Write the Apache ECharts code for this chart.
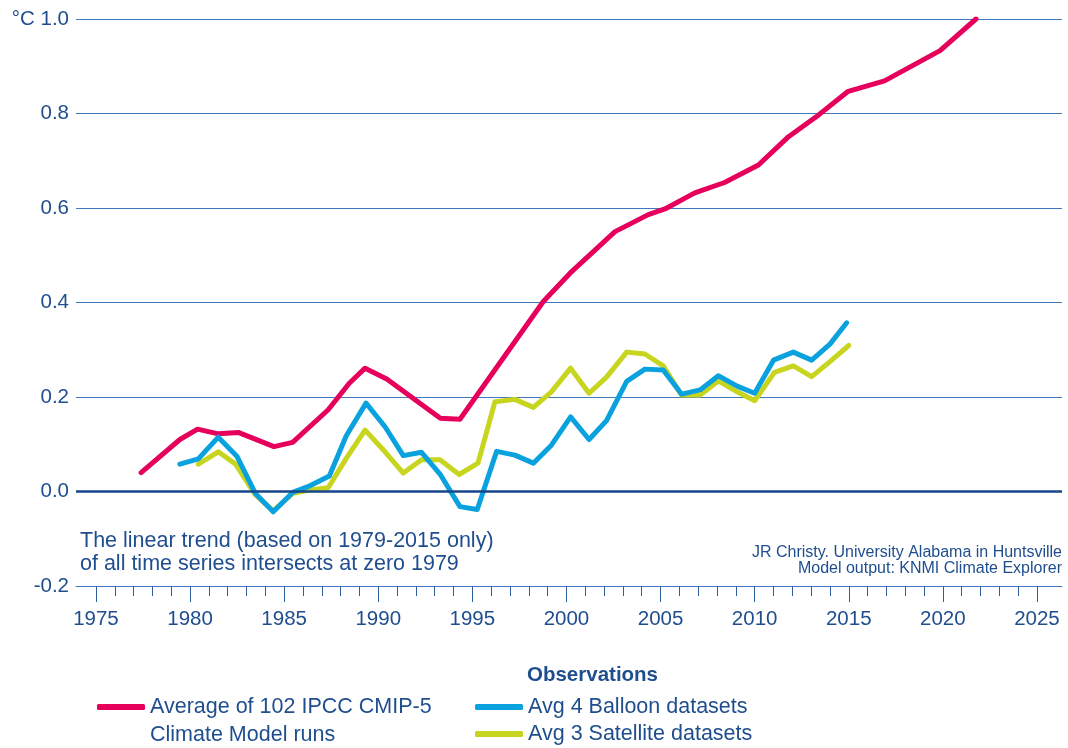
<!DOCTYPE html>
<html>
<head>
<meta charset="utf-8">
<script src="https://cdn.jsdelivr.net/npm/echarts@6/dist/echarts.min.js"></script>
<style>
  html, body { margin: 0; padding: 0; background: #fff; }
  #chart { width: 1068px; height: 748px; }
</style>
</head>
<body>
<div id="chart"></div>
<script>
// [year, °C]
const modelRuns = [
  [1977.4, 0.040], [1979.46, 0.110], [1980.4, 0.132], [1981.5, 0.122], [1982.56, 0.125],
  [1984.46, 0.095], [1985.45, 0.104], [1987.34, 0.173], [1988.46, 0.229], [1989.3, 0.261],
  [1990.45, 0.238], [1993.3, 0.155], [1994.34, 0.153], [1998.77, 0.402], [2000.19, 0.462],
  [2002.58, 0.550], [2004.35, 0.586], [2005.23, 0.598], [2006.82, 0.632], [2008.4, 0.654],
  [2010.2, 0.691], [2011.8, 0.751], [2013.4, 0.797], [2014.97, 0.847], [2016.9, 0.869],
  [2019.85, 0.933], [2021.76, 1.0]
]
const balloon = [
  [1979.46, 0.058], [1980.44, 0.069], [1981.5, 0.115], [1982.5, 0.074], [1983.47, -0.004],
  [1984.42, -0.043], [1985.45, -0.002], [1986.37, 0.012], [1987.4, 0.033], [1988.3, 0.118],
  [1989.35, 0.187], [1990.36, 0.137], [1991.33, 0.076], [1992.3, 0.083], [1993.28, 0.037],
  [1994.34, -0.032], [1995.26, -0.038], [1996.29, 0.085], [1997.26, 0.077], [1998.24, 0.060],
  [1999.2, 0.098], [2000.22, 0.158], [2001.2, 0.110], [2002.13, 0.150], [2003.2, 0.233],
  [2004.17, 0.259], [2005.14, 0.257], [2006.12, 0.206], [2007.1, 0.215], [2008.07, 0.245],
  [2009.07, 0.223], [2010.0, 0.208], [2011.0, 0.278], [2012.05, 0.295], [2013.03, 0.278],
  [2014.0, 0.312], [2014.89, 0.357]
]
const satellite = [
  [1980.44, 0.058], [1981.5, 0.084], [1982.42, 0.058], [1983.45, -0.006], [1984.42, -0.041],
  [1985.45, -0.004], [1986.37, 0.003], [1987.34, 0.008], [1988.3, 0.070], [1989.3, 0.130],
  [1990.36, 0.084], [1991.33, 0.039], [1992.3, 0.067], [1993.28, 0.067], [1994.3, 0.036],
  [1995.3, 0.060], [1996.2, 0.190], [1997.26, 0.195], [1998.24, 0.178], [1999.2, 0.211],
  [2000.22, 0.261], [2001.2, 0.208], [2002.13, 0.242], [2003.2, 0.295], [2004.17, 0.291],
  [2005.14, 0.266], [2006.12, 0.204], [2007.1, 0.204], [2008.07, 0.234], [2009.07, 0.211],
  [2010.0, 0.192], [2011.05, 0.252], [2012.05, 0.266], [2013.03, 0.243], [2014.0, 0.275],
  [2015.0, 0.309]
]

// axis ticks
const yearLabels = [1975, 1980, 1985, 1990, 1995, 2000, 2005, 2010, 2015, 2020, 2025]
const minorYears = [
  1976, 1977, 1978, 1979, 1981, 1982, 1983, 1984, 1986, 1987, 1988, 1989,
  1991, 1992, 1993, 1994, 1996, 1997, 1998, 1999, 2001, 2002, 2003, 2004,
  2006, 2007, 2008, 2009, 2011, 2012, 2013, 2014, 2016, 2017, 2018, 2019,
  2021, 2022, 2023, 2024
]

const seriesNames = {
  model: 'Average of 102 IPCC CMIP-5',
  balloon: 'Avg 4 Balloon datasets',
  satellite: 'Avg 3 Satellite datasets'
}

const FONT = 'Liberation Sans'
const TEXT = '#1f4e8f'
const GRID = '#3f78bd'

const chart = echarts.init(document.getElementById('chart'))

chart.setOption({
  animation: false,
  textStyle: { fontFamily: FONT },
  grid: { left: 76, right: 6, top: 19, bottom: 162 },

  xAxis: [{
    type: 'value',
    min: 1973.94,
    max: 2026.33,
    position: 'bottom',
    axisLine: { onZero: false, lineStyle: { color: GRID, width: 1 } },
    axisTick: { customValues: yearLabels, length: 16, lineStyle: { color: '#2d5f9f' } },
    axisLabel: {
      customValues: yearLabels,
      margin: 23,
      fontSize: 20.5,
      color: TEXT,
      formatter: v => String(v)
    },
    splitLine: { show: false }
  }, {
    type: 'value',
    min: 1973.94,
    max: 2026.33,
    position: 'bottom',
    axisLine: { show: false, onZero: false },
    axisTick: { customValues: minorYears, length: 10, lineStyle: { color: '#2d5f9f' } },
    axisLabel: { show: false },
    splitLine: { show: false }
  }],

  yAxis: {
    type: 'value',
    min: -0.2,
    max: 1.0,
    interval: 0.2,
    axisLine: { show: false },
    axisTick: { show: false },
    axisLabel: {
      margin: 7,
      fontSize: 20.5,
      color: TEXT,
      formatter: v => (v > 0.99 ? '°C 1.0' : v.toFixed(1))
    },
    splitLine: { lineStyle: { color: GRID, width: 1 } }
  },

  legend: [{
    left: 97,
    top: 695,
    padding: 0,
    itemWidth: 48,
    itemHeight: 6,
    icon: 'roundRect',
    textStyle: { fontSize: 21.5, color: TEXT, lineHeight: 24 },
    data: [seriesNames.model]
  }, {
    left: 475,
    top: 695,
    padding: 0,
    orient: 'vertical',
    itemGap: 3,
    itemWidth: 48,
    itemHeight: 6,
    icon: 'roundRect',
    textStyle: { fontSize: 21.5, color: TEXT, lineHeight: 24 },
    data: [seriesNames.balloon, seriesNames.satellite]
  }],

  graphic: [{
    type: 'text',
    left: 150,
    top: 724,
    style: { text: 'Climate Model runs', font: '21.5px ' + FONT, fill: TEXT }
  }, {
    type: 'text',
    left: 527,
    top: 665,
    style: { text: 'Observations', font: 'bold 20.5px ' + FONT, fill: TEXT }
  }, {
    type: 'text',
    left: 80,
    top: 530,
    style: {
      text: 'The linear trend (based on 1979-2015 only)\nof all time series intersects at zero 1979',
      font: '21.5px ' + FONT,
      lineHeight: 23,
      fill: TEXT
    }
  }, {
    type: 'text',
    right: 6,
    top: 545,
    style: { text: 'JR Christy. University Alabama in Huntsville', font: '16px ' + FONT, fill: TEXT }
  }, {
    type: 'text',
    right: 6,
    top: 561,
    style: { text: 'Model output: KNMI Climate Explorer', font: '16px ' + FONT, fill: TEXT }
  }],

  series: [{
    name: seriesNames.model,
    type: 'line',
    data: modelRuns,
    symbol: 'none',
    itemStyle: { color: '#e6005c' },
    lineStyle: { width: 5, color: '#e6005c', cap: 'round', join: 'round' },
    // zero line, drawn under the observation series
    markLine: {
      silent: true,
      symbol: 'none',
      label: { show: false },
      lineStyle: { color: '#17468a', width: 2.5, type: 'solid' },
      data: [{ yAxis: 0 }]
    }
  }, {
    name: seriesNames.satellite,
    type: 'line',
    data: satellite,
    symbol: 'none',
    itemStyle: { color: '#c8d51e' },
    lineStyle: { width: 5, color: '#c8d51e', cap: 'round', join: 'round' }
  }, {
    name: seriesNames.balloon,
    type: 'line',
    data: balloon,
    symbol: 'none',
    itemStyle: { color: '#0aa2de' },
    lineStyle: { width: 5, color: '#0aa2de', cap: 'round', join: 'round' }
  }]
})
</script>
</body>
</html>
